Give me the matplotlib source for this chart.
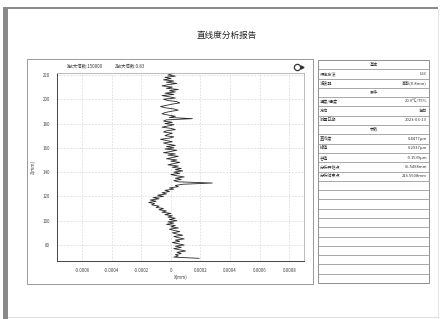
import numpy as np
import matplotlib
matplotlib.use("Agg")
import matplotlib.pyplot as plt
from matplotlib.patches import Rectangle
from matplotlib.lines import Line2D

plt.rcParams['font.family'] = ['Noto Sans CJK SC', 'DejaVu Sans']

# ---------------- data ----------------
title = "直线度分析报告"
x_mag_text = "X放大倍数:150000"
z_mag_text = "Z放大倍数:0.83"
x_label = "X(mm)"
z_label = "Z(mm)"

z_start, z_end = 221, 68          # profile positions along Z (mm), 1 mm pitch
x_dev_um = [  # deviation in micrometres, from top (z=221) to bottom (z=69)
    0.01, -0.02, 0.03, -0.04, 0.00, -0.05, 0.02, -0.03, 0.04, -0.02,
    -0.06, 0.01, -0.03, 0.05, -0.01, 0.03, -0.04, 0.02, -0.06, -0.01,
    0.03, -0.05, -0.02, 0.04, 0.06, 0.01, -0.03, -0.07, -0.04, 0.02,
    0.05, 0.00, -0.04, -0.06, -0.02, 0.03, -0.01, 0.145, -0.03, -0.05,
    0.01, -0.04, 0.02, -0.02, -0.06, 0.00, 0.03, -0.03, -0.05, 0.01,
    -0.02, -0.04, 0.02, -0.01, -0.07, -0.03, 0.01, -0.05, -0.02, 0.03,
    -0.03, 0.02, -0.04, 0.04, 0.00, -0.05, 0.03, -0.02, 0.05, 0.01,
    -0.03, 0.04, 0.00, 0.06, 0.02, -0.02, 0.05, 0.01, 0.07, 0.03,
    0.08, 0.02, 0.06, 0.00, 0.04, 0.09, 0.03, 0.07, 0.02, 0.05,
    0.28, 0.08, 0.03, 0.05, -0.01, 0.02, -0.04, -0.01, -0.06, -0.03,
    -0.09, -0.05, -0.12, -0.08, -0.14, -0.10, -0.15, -0.11, -0.13, -0.08,
    -0.10, -0.05, -0.08, -0.03, -0.06, 0.00, -0.04, 0.01, -0.02, 0.03,
    -0.01, 0.04, -0.02, 0.02, -0.03, 0.03, 0.00, 0.05, -0.01, 0.02,
    0.06, 0.01, 0.04, 0.08, 0.02, 0.05, 0.09, 0.03, 0.06, 0.01,
    0.05, 0.09, 0.03, 0.07, 0.02, 0.06, 0.10, 0.04, 0.07, 0.03,
    0.05, 0.02, 0.19,
]
x_ticks = [-0.0006, -0.0004, -0.0002, 0, 0.0002, 0.0004, 0.0006, 0.0008]
x_tick_labels = ["-0.0006", "-0.0004", "-0.0002", "0", "0.0002", "0.0004", "0.0006", "0.0008"]
z_ticks = [80, 100, 120, 140, 160, 180, 200, 220]

table_rows = [
    ("基本", None, True),
    ("评定方法", "LSC", False),
    ("滤波器", "高斯(0.8mm)", False),
    ("条件", None, True),
    ("温度/湿度", "20.0℃/75%", False),
    ("方向", "左右", False),
    ("测量日期", "2023-03-13", False),
    ("参数", None, True),
    ("直线度", "0.4477μm", False),
    ("峰值", "0.2937μm", False),
    ("谷值", "-0.1539μm", False),
    ("分析开始点", "65.5498mm", False),
    ("分析结束点", "216.5508mm", False),
]
n_table_rows = 24

# ---------------- layout ----------------
W, H = 441, 319
fig = plt.figure(figsize=(W / 100, H / 100), dpi=100)
fig.patch.set_facecolor("white")


def fx(px):
    return px / W


def fy(py):
    return 1 - py / H


def rect(x0, y0, x1, y1, **kw):
    fig.patches.append(Rectangle((fx(x0), fy(y1)), fx(x1) - fx(x0), fy(y0) - fy(y1),
                                 transform=fig.transFigure, **kw))


# page frame
rect(3, 7, 438, 9, facecolor="#8a8a8a", edgecolor="none")
rect(3, 7, 8, 319, facecolor="#8a8a8a", edgecolor="none")
fig.lines.append(Line2D([fx(438), fx(438)], [fy(9), fy(318)], transform=fig.transFigure,
                        color="#e6e6e6", lw=0.8))
fig.lines.append(Line2D([fx(8), fx(438)], [fy(317), fy(317)], transform=fig.transFigure,
                        color="#e0e0e0", lw=0.8))

# title
fig.text(fx(227), fy(35), title, ha="center", va="center", fontsize=6.2, color="#222222")

# chart panel frame
rect(27, 59, 313, 284, facecolor="none", edgecolor="#9a9a9a", lw=0.7)

# main axes
ax = fig.add_axes([fx(57), fy(261), fx(304) - fx(57), fy(73) - fy(261)])
z_vals = np.arange(z_start, z_end, -1)
x_vals = np.array(x_dev_um) / 1000.0
ax.plot(x_vals, z_vals, color="#2a2a2a", lw=0.6)
ax.set_xlim(-0.00077, 0.0009)
ax.set_ylim(66.8, 221.6)
ax.set_xticks(x_ticks)
ax.set_xticklabels(x_tick_labels)
ax.set_yticks(z_ticks)
ax.tick_params(axis="both", length=0, labelsize=3.2, labelcolor="#444444", pad=5)
ax.grid(True, ls=(0, (3, 2)), color="#d4d4d4", lw=0.45)
for side in ("left", "bottom"):
    ax.spines[side].set_color("#444444")
    ax.spines[side].set_linewidth(0.7)
for side in ("top", "right"):
    ax.spines[side].set_color("#b0b0b0")
    ax.spines[side].set_linewidth(0.6)

fig.text(fx(33), fy(167), z_label, rotation=90, ha="center", va="center", fontsize=3.2, color="#444444")
fig.text(fx(181), fy(277), x_label, ha="center", va="center", fontsize=3.2, color="#444444")
fig.text(fx(67), fy(66), x_mag_text, ha="left", va="center", fontsize=3.2, color="#333333")
fig.text(fx(115), fy(66), z_mag_text, ha="left", va="center", fontsize=3.2, color="#333333")

# icon
fig.lines.append(Line2D([fx(297)], [fy(67)], transform=fig.transFigure, marker="o", ms=4.5,
                        mfc="white", mec="#333333", mew=0.9, ls="none"))
fig.lines.append(Line2D([fx(301.5)], [fy(67)], transform=fig.transFigure, marker=">", ms=2.2,
                        mfc="#333333", mec="#333333", ls="none"))

# table
tx0, tx1, ty0, ty1 = 318, 429, 60, 283
pitch = (ty1 - ty0) / n_table_rows
rect(tx0, ty0, tx1, ty1, facecolor="none", edgecolor="#8f8f8f", lw=0.7)
for i in range(1, n_table_rows):
    y = ty0 + i * pitch
    fig.lines.append(Line2D([fx(tx0), fx(tx1)], [fy(y), fy(y)], transform=fig.transFigure,
                            color="#9a9a9a", lw=0.6))
for i, (label, value, header) in enumerate(table_rows):
    yc = ty0 + (i + 0.5) * pitch
    if header:
        fig.text(fx((tx0 + tx1) / 2), fy(yc), label, ha="center", va="center",
                 fontsize=3.0, color="#333333")
    else:
        fig.text(fx(tx0 + 2), fy(yc), label, ha="left", va="center", fontsize=3.0, color="#333333")
        fig.text(fx(tx1 - 2), fy(yc), value, ha="right", va="center", fontsize=3.0, color="#333333")

fig.savefig("out.png", dpi=100)
